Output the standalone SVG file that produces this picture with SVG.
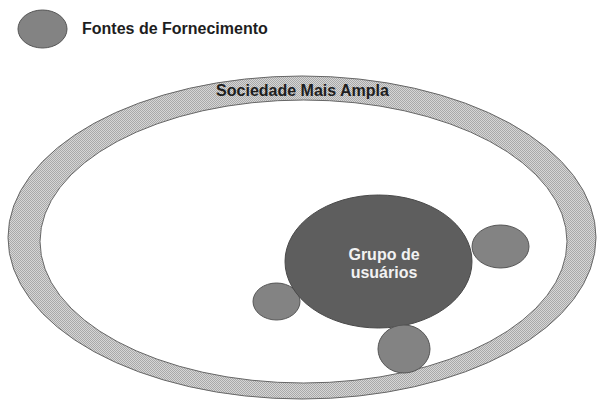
<svg xmlns="http://www.w3.org/2000/svg" width="597" height="400" viewBox="0 0 597 400">
<style>
.src{fill:#838383;stroke:#555;stroke-width:1}
.lbl{font-family:"Liberation Sans",Arial,sans-serif;font-weight:bold;fill:#1e1e1e;font-size:16px}
.wht{font-family:"Liberation Sans",Arial,sans-serif;font-weight:bold;fill:#f2f2f2;font-size:16px;text-anchor:middle}
</style>
<defs>
<pattern id="chk" width="2" height="2" patternUnits="userSpaceOnUse">
<rect width="2" height="2" fill="#d6d6d6"/>
<rect width="1" height="1" fill="#a9a9a9"/>
<rect x="1" y="1" width="1" height="1" fill="#a9a9a9"/>
</pattern>
</defs>
<rect width="597" height="400" fill="#fff"/>
<g id="legend">
<ellipse class="src" cx="42.5" cy="29" rx="24.5" ry="19"/>
<text class="lbl" x="82" y="34">Fontes de Fornecimento</text>
</g>
<g id="sociedade">
<ellipse cx="302" cy="237.5" rx="294" ry="161.5" fill="url(#chk)" stroke="#666" stroke-width="1"/>
<ellipse cx="303.5" cy="241.5" rx="263.5" ry="141.5" fill="#fff" stroke="#666" stroke-width="1"/>
<text class="lbl" x="302.5" y="96" text-anchor="middle">Sociedade Mais Ampla</text>
</g>
<g id="fonte2"><ellipse class="src" cx="276.5" cy="301.5" rx="23.5" ry="18.5"/></g>
<g id="grupo">
<ellipse cx="378.5" cy="261.5" rx="93.5" ry="66.5" fill="#5e5e5e" stroke="#4a4a4a" stroke-width="1"/>
<text class="wht" x="384" y="260">Grupo de</text>
<text class="wht" x="384" y="278">usuários</text>
</g>
<g id="fonte1"><ellipse class="src" cx="500.5" cy="246.5" rx="28.5" ry="21.5"/></g>
<g id="fonte3"><ellipse class="src" cx="404" cy="349" rx="26" ry="24"/></g>
<g id="connectors"></g>
</svg>
